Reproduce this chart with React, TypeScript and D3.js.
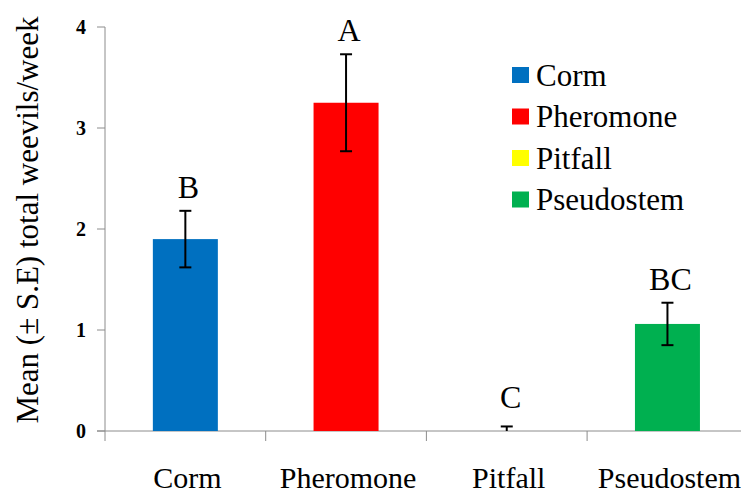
import { useEffect, useRef } from "react";
import * as d3 from "d3";

const categories = ["Corm", "Pheromone", "Pitfall", "Pseudostem"];
const means = [1.9, 3.25, 0, 1.06];
const errors = [0.28, 0.48, 0.045, 0.21];
const letters = ["B", "A", "C", "BC"];
const colors = ["#0070C0", "#FF0000", "#FFFF00", "#00B050"];
const yTicks = [0, 1, 2, 3, 4];

const W = 741;
const H = 493;

const App = () => {
  const svgRef = useRef<SVGSVGElement | null>(null);

  useEffect(() => {
    if (!svgRef.current) return;
    const svg = d3.select(svgRef.current);
    svg.selectAll("*").remove();

    const left = 105;
    const band = 160.7;
    const x = d3
      .scaleBand<string>()
      .domain(categories)
      .range([left, left + band * categories.length])
      .paddingInner(0)
      .paddingOuter(0);
    const y = d3.scaleLinear().domain([0, 4]).range([431, 27]);
    const barW = 65;
    const font = "Liberation Serif";
    const axisColor = "#8c8c8c";

    const text = (sel: d3.Selection<SVGTextElement, unknown, null, undefined>, size: number) =>
      sel.style("font-family", font).style("font-size", `${size}px`).attr("fill", "#000");

    // y axis
    svg.append("line")
      .attr("x1", left).attr("x2", left)
      .attr("y1", y(4)).attr("y2", y(0) + 10)
      .attr("stroke", axisColor).attr("stroke-width", 1);
    yTicks.forEach((t) => {
      svg.append("line")
        .attr("x1", left - 8).attr("x2", left)
        .attr("y1", y(t)).attr("y2", y(t))
        .attr("stroke", axisColor);
      text(svg.append("text"), 20)
        .attr("x", 81).attr("y", y(t))
        .attr("dy", "0.35em")
        .attr("text-anchor", "middle")
        .style("font-weight", "bold")
        .text(t);
    });

    // x axis
    svg.append("line")
      .attr("x1", left - 8).attr("x2", W)
      .attr("y1", y(0)).attr("y2", y(0))
      .attr("stroke", axisColor);
    categories.forEach((c, i) => {
      if (i > 0) {
        svg.append("line")
          .attr("x1", x(c)!).attr("x2", x(c)!)
          .attr("y1", y(0)).attr("y2", y(0) + 10)
          .attr("stroke", axisColor);
      }
      text(svg.append("text"), 30)
        .attr("x", x(c)! + band / 2 + 2)
        .attr("y", 488)
        .attr("text-anchor", "middle")
        .text(c);
    });

    // bars
    categories.forEach((c, i) => {
      const cx = x(c)! + band / 2;
      if (means[i] > 0) {
        svg.append("rect")
          .attr("x", cx - barW / 2)
          .attr("y", y(means[i]))
          .attr("width", barW)
          .attr("height", y(0) - y(means[i]))
          .attr("fill", colors[i]);
      }
      const lo = Math.max(0, means[i] - errors[i]);
      const hi = means[i] + errors[i];
      const g = svg.append("g").attr("stroke", "#000").attr("stroke-width", 2);
      g.append("line").attr("x1", cx).attr("x2", cx).attr("y1", y(lo)).attr("y2", y(hi));
      g.append("line").attr("x1", cx - 6).attr("x2", cx + 6).attr("y1", y(hi)).attr("y2", y(hi));
      if (means[i] > 0) {
        g.append("line").attr("x1", cx - 6).attr("x2", cx + 6).attr("y1", y(lo)).attr("y2", y(lo));
      }
      text(svg.append("text"), 32)
        .attr("x", cx + (i === 2 ? 4 : 3))
        .attr("y", y(hi) - (i === 2 ? 18 : 13))
        .attr("text-anchor", "middle")
        .text(letters[i]);
    });

    // legend
    categories.forEach((c, i) => {
      const ly = 75 + i * 41.5;
      svg.append("rect")
        .attr("x", 512).attr("y", ly - 8)
        .attr("width", 17).attr("height", 16)
        .attr("fill", colors[i]);
      text(svg.append("text"), 31)
        .attr("x", 536).attr("y", ly)
        .attr("dy", "0.35em")
        .text(c);
    });

    // y title
    text(svg.append("text"), 31)
      .attr("transform", `translate(38, 220) rotate(-90)`)
      .attr("text-anchor", "middle")
      .text("Mean (\u00B1 S.E) total weevils/week");
  }, []);

  return (
    <svg
      ref={svgRef}
      width={W}
      height={H}
      style={{ display: "block", position: "absolute", left: 0, top: 0, background: "#fff" }}
      viewBox={`0 0 ${W} ${H}`}
    />
  );
};

export default App;
